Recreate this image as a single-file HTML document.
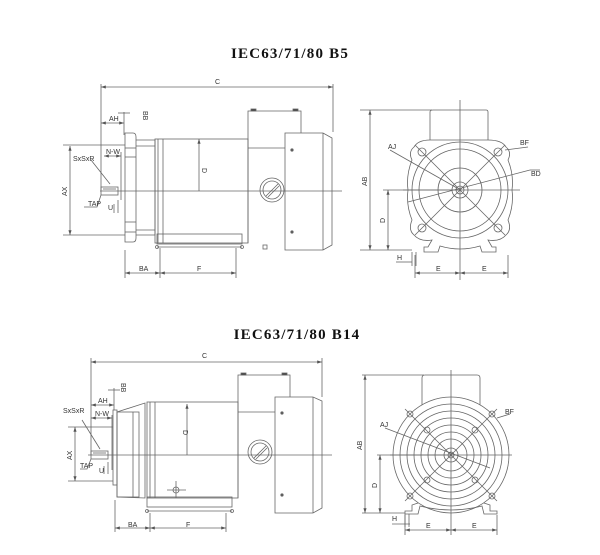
<!DOCTYPE html>
<html><head><meta charset="utf-8"><style>
html,body{margin:0;padding:0;background:#fff;width:600px;height:555px;overflow:hidden}
svg{display:block}
.t{font-family:"Liberation Serif",serif;font-weight:bold;font-size:15px;letter-spacing:1.2px;fill:#111}
.l{font-family:"Liberation Sans",sans-serif;font-size:7px;fill:#333}
</style></head><body>
<svg width="600" height="555" viewBox="0 0 600 555" xmlns="http://www.w3.org/2000/svg">
<defs>
<marker id="a" markerWidth="6" markerHeight="4" refX="6" refY="2" orient="auto-start-reverse"><path d="M0,0 L6,2 L0,4z" fill="#555"/></marker>
</defs>
<text class="t" x="290" y="58" text-anchor="middle">IEC63/71/80 B5</text>
<text class="t" x="297" y="339" text-anchor="middle">IEC63/71/80 B14</text>

<g fill="none" stroke="#666" stroke-width="0.8">
<!-- ===== TOP SIDE VIEW ===== -->
<line x1="101" y1="84" x2="101" y2="190"/><line x1="333" y1="84" x2="333" y2="132"/>
<line x1="101" y1="87" x2="333" y2="87" marker-start="url(#a)" marker-end="url(#a)"/>
<line x1="101" y1="123" x2="124" y2="123" marker-start="url(#a)" marker-end="url(#a)"/>
<line x1="124" y1="112" x2="124" y2="135"/><line x1="118" y1="113" x2="130" y2="113"/>
<line x1="104" y1="156" x2="121" y2="156" marker-start="url(#a)" marker-end="url(#a)"/>
<line x1="121" y1="152" x2="121" y2="200"/>
<line x1="63" y1="145" x2="125" y2="145"/><line x1="63" y1="235" x2="125" y2="235"/>
<line x1="70" y1="146" x2="70" y2="235" marker-start="url(#a)" marker-end="url(#a)"/>
<!-- flange -->
<path d="M125,133 H133 Q136,133 136,137 V238 Q136,242 133,242 H125 Z"/>
<line x1="125" y1="148" x2="136" y2="148"/><line x1="125" y1="157" x2="136" y2="157"/>
<line x1="125" y1="222" x2="136" y2="222"/><line x1="125" y1="232" x2="136" y2="232"/>
<!-- neck -->
<path d="M136,140 H155 V235 H136"/><line x1="136" y1="146" x2="155" y2="146"/><line x1="136" y1="230" x2="155" y2="230"/>
<!-- body -->
<rect x="155" y="139" width="93" height="104"/><line x1="158" y1="139" x2="158" y2="243"/><line x1="163" y1="139" x2="163" y2="243"/>
<!-- terminal box -->
<path d="M248,243 V111 H301 V133"/><line x1="248" y1="148" x2="285" y2="148"/>
<rect x="251" y="109" width="5" height="2" fill="#444"/><rect x="293" y="109" width="5" height="2" fill="#444"/>
<!-- fan cover -->
<path d="M285,133 H323 L332,138 V245 L323,250 H285 Z"/><line x1="323" y1="133" x2="323" y2="250"/>
<circle cx="292" cy="150" r="1.2" fill="#555"/><circle cx="292" cy="232" r="1.2" fill="#555"/>
<!-- feet bar -->
<rect x="157" y="234" width="85" height="10"/><line x1="157" y1="247" x2="242" y2="247"/>
<circle cx="157" cy="247" r="1.5"/><circle cx="242" cy="247" r="1.5"/>
<rect x="263" y="245" width="4" height="4"/>
<!-- gland -->
<circle cx="272" cy="190" r="12"/><circle cx="272" cy="190" r="9"/><line x1="266" y1="196" x2="278" y2="184"/><line x1="268" y1="197" x2="279" y2="186"/>
<!-- axis -->
<line x1="100" y1="191" x2="342" y2="191"/>
<!-- shaft -->
<rect x="101" y="187" width="17" height="8"/><line x1="103" y1="189" x2="116" y2="189"/>
<line x1="91" y1="160" x2="110" y2="184"/>
<path d="M84,207 L97,207 L101,195"/>
<line x1="118" y1="200" x2="118" y2="213"/><line x1="114" y1="204" x2="114" y2="213"/>
<line x1="199" y1="139" x2="199" y2="191" marker-start="url(#a)"/>
<line x1="125" y1="250" x2="125" y2="278"/><line x1="160" y1="248" x2="160" y2="278"/><line x1="236" y1="248" x2="236" y2="278"/>
<line x1="125" y1="273" x2="160" y2="273" marker-start="url(#a)" marker-end="url(#a)"/>
<line x1="160" y1="273" x2="236" y2="273" marker-start="url(#a)" marker-end="url(#a)"/>

<!-- ===== TOP END VIEW ===== -->
<line x1="360" y1="110" x2="432" y2="110"/>
<line x1="370" y1="110" x2="370" y2="250" marker-start="url(#a)" marker-end="url(#a)"/>
<line x1="360" y1="250" x2="412" y2="250"/>
<line x1="383" y1="190" x2="460" y2="190"/>
<line x1="388" y1="190" x2="388" y2="250" marker-start="url(#a)" marker-end="url(#a)"/>
<path d="M430,140 V112 Q430,110 433,110 H486 Q488,110 488,112 V140"/>
<path d="M430,140 Q418,140 414,147 Q408,152 412,160 Q406,175 408,190 Q406,205 412,220 Q408,230 414,235 Q420,242 432,240 L428,247 H424 V252 H438 L440,246 Q460,252 480,246 L482,252 H496 V247 H492 L488,240 Q500,242 506,235 Q512,230 508,220 Q514,205 512,190 Q514,175 508,160 Q512,152 506,147 Q502,140 488,140 Z"/>
<circle cx="460" cy="190" r="48"/><circle cx="460" cy="190" r="41"/><circle cx="460" cy="190" r="22"/><circle cx="460" cy="190" r="8"/><circle cx="460" cy="190" r="4"/>
<circle cx="422" cy="152" r="4"/><circle cx="498" cy="152" r="4"/><circle cx="422" cy="228" r="4"/><circle cx="498" cy="228" r="4"/>
<line x1="460" y1="100" x2="460" y2="280"/><line x1="403" y1="190" x2="520" y2="190"/>
<line x1="415" y1="145" x2="505" y2="235"/><line x1="505" y1="145" x2="415" y2="235"/>
<line x1="408" y1="202" x2="530" y2="170"/><line x1="530" y1="170" x2="540" y2="170"/>
<line x1="390" y1="150" x2="457" y2="188"/>
<line x1="505" y1="150" x2="528" y2="147"/>
<line x1="415" y1="255" x2="415" y2="278"/><line x1="508" y1="255" x2="508" y2="278"/>
<line x1="415" y1="273" x2="460" y2="273" marker-start="url(#a)" marker-end="url(#a)"/>
<line x1="460" y1="273" x2="508" y2="273" marker-start="url(#a)" marker-end="url(#a)"/>
<line x1="396" y1="262" x2="412" y2="262"/><line x1="412" y1="252" x2="412" y2="266"/><line x1="416" y1="252" x2="416" y2="266"/>

<!-- ===== BOTTOM SIDE VIEW ===== -->
<line x1="91" y1="358" x2="91" y2="455"/><line x1="322" y1="358" x2="322" y2="397"/>
<line x1="91" y1="362" x2="322" y2="362" marker-start="url(#a)" marker-end="url(#a)"/>
<line x1="91" y1="405" x2="114" y2="405" marker-start="url(#a)" marker-end="url(#a)"/>
<line x1="114" y1="388" x2="114" y2="410"/><line x1="108" y1="390" x2="120" y2="390"/>
<line x1="91" y1="418" x2="112" y2="418" marker-start="url(#a)" marker-end="url(#a)"/>
<line x1="112" y1="415" x2="112" y2="470"/>
<line x1="68" y1="427" x2="113" y2="427"/><line x1="68" y1="481" x2="113" y2="481"/>
<line x1="75" y1="427" x2="75" y2="481" marker-start="url(#a)" marker-end="url(#a)"/>
<rect x="113" y="410" width="4" height="75"/>
<path d="M117,412 L145,403 V498 L117,497 Z"/><rect x="117" y="412" width="22" height="85"/><line x1="133" y1="412" x2="133" y2="497"/>
<rect x="147" y="402" width="91" height="96"/><line x1="150" y1="402" x2="150" y2="498"/><line x1="155" y1="402" x2="155" y2="498"/>
<path d="M238,498 V375 H290 V397"/><line x1="238" y1="412" x2="275" y2="412"/>
<rect x="241" y="373" width="5" height="2" fill="#444"/><rect x="282" y="373" width="5" height="2" fill="#444"/>
<path d="M275,397 H313 L322,401 V508 L313,513 H275 Z"/><line x1="313" y1="397" x2="313" y2="513"/>
<circle cx="282" cy="413" r="1.2" fill="#555"/><circle cx="282" cy="495" r="1.2" fill="#555"/>
<rect x="147" y="497" width="85" height="10"/><line x1="147" y1="511" x2="232" y2="511"/>
<circle cx="147" cy="511" r="1.5"/><circle cx="232" cy="511" r="1.5"/>
<circle cx="260" cy="452" r="12"/><circle cx="260" cy="452" r="9"/><line x1="254" y1="458" x2="266" y2="446"/><line x1="256" y1="459" x2="267" y2="448"/>
<circle cx="176" cy="490" r="3"/><line x1="167" y1="490" x2="186" y2="490"/><line x1="176" y1="481" x2="176" y2="498"/>
<line x1="88" y1="455" x2="332" y2="455"/>
<rect x="91" y="451" width="17" height="8"/><line x1="93" y1="453" x2="106" y2="453"/>
<line x1="82" y1="420" x2="100" y2="449"/>
<path d="M80,469 L87,469 L91,459"/>
<line x1="108" y1="462" x2="108" y2="474"/><line x1="104" y1="466" x2="104" y2="474"/>
<line x1="187" y1="404" x2="187" y2="455" marker-start="url(#a)"/>
<line x1="115" y1="500" x2="115" y2="532"/><line x1="150" y1="513" x2="150" y2="532"/><line x1="226" y1="513" x2="226" y2="532"/>
<line x1="115" y1="528" x2="150" y2="528" marker-start="url(#a)" marker-end="url(#a)"/>
<line x1="150" y1="528" x2="226" y2="528" marker-start="url(#a)" marker-end="url(#a)"/>

<!-- ===== BOTTOM END VIEW ===== -->
<line x1="362" y1="375" x2="424" y2="375"/>
<line x1="365" y1="375" x2="365" y2="513" marker-start="url(#a)" marker-end="url(#a)"/>
<line x1="362" y1="513" x2="405" y2="513"/>
<line x1="377" y1="455" x2="451" y2="455"/>
<line x1="380" y1="455" x2="380" y2="513" marker-start="url(#a)" marker-end="url(#a)"/>
<path d="M422,405 V378 Q422,375 425,375 H477 Q480,375 480,378 V405"/>
<circle cx="451" cy="455" r="58"/><circle cx="451" cy="455" r="51"/><circle cx="451" cy="455" r="44"/><circle cx="451" cy="455" r="37"/><circle cx="451" cy="455" r="30"/><circle cx="451" cy="455" r="23"/><circle cx="451" cy="455" r="16"/><circle cx="451" cy="455" r="7"/><circle cx="451" cy="455" r="3"/>
<path d="M418,503 L412,505 V511 H405 V514 H418 L420,506 Q451,514 482,506 L484,514 H497 V511 H490 V505 L484,503"/>
<circle cx="410" cy="414" r="3"/><circle cx="492" cy="414" r="3"/><circle cx="410" cy="496" r="3"/><circle cx="492" cy="496" r="3"/>
<circle cx="427" cy="430" r="3"/><circle cx="475" cy="430" r="3"/><circle cx="427" cy="480" r="3"/><circle cx="475" cy="480" r="3"/>
<line x1="451" y1="370" x2="451" y2="535"/><line x1="390" y1="455" x2="512" y2="455"/>
<line x1="405" y1="409" x2="497" y2="501"/><line x1="497" y1="409" x2="405" y2="501"/>
<line x1="385" y1="428" x2="490" y2="468"/>
<line x1="497" y1="418" x2="510" y2="414"/>
<line x1="405" y1="515" x2="405" y2="535"/><line x1="497" y1="515" x2="497" y2="535"/>
<line x1="405" y1="530" x2="451" y2="530" marker-start="url(#a)" marker-end="url(#a)"/>
<line x1="451" y1="530" x2="497" y2="530" marker-start="url(#a)" marker-end="url(#a)"/>
<line x1="392" y1="524" x2="410" y2="524"/><line x1="405" y1="514" x2="405" y2="527"/><line x1="409" y1="514" x2="409" y2="527"/>
</g>

<g class="l">
<text x="215" y="84">C</text>
<text x="109" y="121">AH</text>
<text x="106" y="154">N-W</text>
<text x="73" y="161">SxSxR</text>
<text x="88" y="206">TAP</text>
<text x="108" y="210">U</text>
<text x="143" y="111" transform="rotate(90 143 111)">BB</text>
<text x="67" y="196" transform="rotate(-90 67 196)">AX</text>
<text x="139" y="271">BA</text>
<text x="197" y="271">F</text>
<text x="202" y="168" transform="rotate(90 202 168)">D</text>
<text x="367" y="186" transform="rotate(-90 367 186)">AB</text>
<text x="385" y="223" transform="rotate(-90 385 223)">D</text>
<text x="388" y="149">AJ</text>
<text x="520" y="145">BF</text>
<text x="531" y="176">BD</text>
<text x="397" y="260">H</text>
<text x="436" y="271">E</text>
<text x="482" y="271">E</text>
<text x="202" y="358">C</text>
<text x="98" y="403">AH</text>
<text x="95" y="416">N-W</text>
<text x="63" y="413">SxSxR</text>
<text x="80" y="468">TAP</text>
<text x="99" y="473">U</text>
<text x="121" y="383" transform="rotate(90 121 383)">BB</text>
<text x="72" y="460" transform="rotate(-90 72 460)">AX</text>
<text x="128" y="527">BA</text>
<text x="186" y="527">F</text>
<text x="183" y="430" transform="rotate(90 183 430)">D</text>
<text x="362" y="450" transform="rotate(-90 362 450)">AB</text>
<text x="377" y="488" transform="rotate(-90 377 488)">D</text>
<text x="380" y="427">AJ</text>
<text x="505" y="414">BF</text>
<text x="392" y="521">H</text>
<text x="426" y="528">E</text>
<text x="472" y="528">E</text>
</g>
</svg>
</body></html>
